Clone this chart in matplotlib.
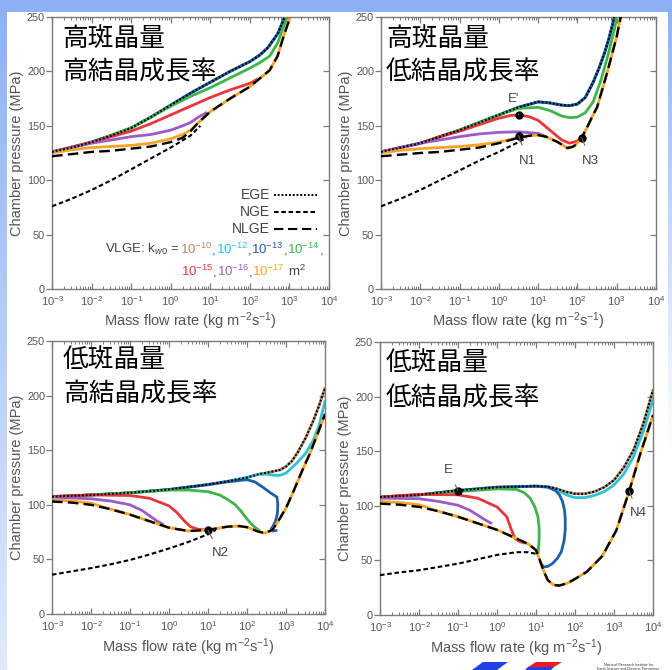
import numpy as np
import matplotlib
matplotlib.use("Agg")
import matplotlib.pyplot as plt
import matplotlib.lines as mlines
from matplotlib.patches import Polygon, Rectangle

plt.rcParams['font.family'] = ['Liberation Sans', 'DejaVu Sans']
plt.rcParams['mathtext.fontset'] = 'custom'
plt.rcParams['mathtext.rm'] = 'Liberation Sans'
plt.rcParams['mathtext.it'] = 'Liberation Sans:italic'
plt.rcParams['mathtext.bf'] = 'Liberation Sans:bold'

# panel titles (phenocryst amount / crystal growth rate)
titles = [("高斑晶量", "高結晶成長率"), ("高斑晶量", "低結晶成長率"),
          ("低斑晶量", "高結晶成長率"), ("低斑晶量", "低結晶成長率")]

# points are [log10 mass flow rate, chamber pressure MPa]
# --- top left
a_ege = [[-3,126],[-2.5,130],[-2,135],[-1.5,141],[-1,148],[-0.5,158],[0,169],[0.5,180],[1,190],[1.5,200],
         [2,209],[2.25,215],[2.46,222],[2.71,235],[2.88,250],[2.95,258]]
a_green = [[-3,126],[-2,135],[-1,148],[0,168],[0.5,177],[1,185],[1.5,194],[2,203],[2.25,208],[2.5,214],
           [2.7,226],[2.85,241],[2.97,252],[3.02,258]]
a_red = [[-3,126],[-2,135],[-1.5,140],[-1,145],[-0.5,152],[0,160],[0.5,168],[1,176],[1.5,183],[2,189],[2.2,193]]
a_purple = [[-3,126],[-2.5,130],[-2,134],[-1.5,137],[-1,140],[-0.5,142],[0,146],[0.3,150],[0.5,153],[0.7,158],[0.9,162]]
a_orange = [[-3,125],[-2.5,128],[-2,130],[-1.5,131],[-1,132],[-0.5,134],[0,138],[0.3,142],[0.5,146]]
a_nlge = [[-3,122],[-2.5,124],[-2,126],[-1.5,127],[-1,129],[-0.5,131],[0,135],[0.3,139],[0.5,145],[0.7,153],
          [1,163],[1.5,175],[2,186],[2.3,195],[2.5,201],[2.7,214],[2.85,232],[3.0,248],[3.08,258]]
a_nge = [[-3,76],[-2.5,83],[-2,91],[-1.5,100],[-1,110],[-0.5,120],[0,130],[0.5,141],[0.75,150]]

# --- top right
b_ege = [[-3,126],[-2.5,130],[-2,134],[-1.5,140],[-1,146],[-0.5,153],[0,160],[0.5,167],[1,172],[1.3,171],
         [1.6,169],[1.8,168.5],[2,170],[2.2,176],[2.4,190],[2.55,203],[2.7,218],[2.8,230],[2.9,244],[2.98,258]]
b_green = [[-3,126],[-2,134],[-1,146],[-0.5,153],[0,160],[0.5,166],[1,167],[1.3,164],[1.6,159],[1.8,157.5],
           [2,158],[2.2,162],[2.4,172],[2.6,192],[2.8,218],[2.95,240],[3.05,258]]
b_red = [[-3,126],[-2,134],[-1.5,140],[-1,145],[-0.5,151],[0,157],[0.3,159.5],[0.55,160],[0.8,158],[1,155],
         [1.2,149],[1.4,143],[1.6,137],[1.8,134],[2,136],[2.11,139]]
b_purple = [[-3,126],[-2.5,130],[-2,134],[-1.5,137],[-1,140],[-0.5,142.5],[0,144],[0.5,144.5],[1,143],[1.2,140]]
b_orange = [[-3,125],[-2.5,127.5],[-2,129],[-1.5,130],[-1,131],[-0.5,132.5],[0,135],[0.3,137.5],[0.5,139.5]]
b_nlge = [[-3,122],[-2.5,123.5],[-2,125],[-1.5,126],[-1,128],[-0.5,130],[0,134],[0.5,139],[0.8,141],[1,141.5],
          [1.2,140],[1.5,135],[1.75,129.5],[1.9,131],[2,134],[2.11,139],[2.25,149],[2.4,160],[2.5,167],
          [2.75,198],[3,232],[3.1,250],[3.15,258]]
b_nge = [[-3,76],[-2.5,83],[-2,91],[-1.5,100],[-1,109],[-0.5,118],[0,126],[0.5,135],[0.7,139]]

# --- bottom left
c_ege = [[-3,107.5],[-2,109],[-1,111],[0,114],[1,118.5],[1.5,121.5],[2,125],[2.3,128],[2.6,130],[2.85,132],
         [3.0,135],[3.15,140],[3.3,148],[3.5,161],[3.7,177],[3.85,191],[4.0,207]]
c_cyan = [[2.5,128],[2.7,127],[2.85,127],[3.0,129],[3.27,138],[3.5,147],[3.7,159],[3.85,173],[4.0,195]]
c_blue = [[1.5,121],[2.0,123],[2.2,121],[2.41,116],[2.6,111],[2.77,107],[2.79,100],[2.78,92],[2.73,85],
          [2.66,80],[2.62,78],[2.66,76],[2.75,76.5]]
c_green = [[-3,107.5],[-2,109],[-1,111],[0,113.5],[0.5,113.5],[1,112],[1.3,109],[1.5,105],[1.7,100],
           [1.85,94],[2.0,87],[2.1,83],[2.2,79.5],[2.3,77]]
c_red = [[-3,107.5],[-2,109],[-1,108.5],[-0.5,106],[0,99],[0.2,93],[0.4,85],[0.55,80],[0.75,77.5],[1.0,77]]
c_purple = [[-3,107],[-2,105.5],[-1.5,103.5],[-1,100],[-0.7,95],[-0.5,90],[-0.3,85],[-0.15,82]]
c_orange = [[-3,104.5],[-2.5,103.5],[-2,101.5]]
c_nlge = [[-3,103],[-2.5,102],[-2,100],[-1.5,96],[-1,91],[-0.5,85],[0,79],[0.5,76],[1.0,77],[1.5,80],
          [1.8,80.5],[2.0,79.5],[2.25,76],[2.45,74],[2.65,77],[2.8,85],[2.9,91],[3.0,97],[3.2,113],
          [3.4,130],[3.6,146],[3.8,164],[4.0,183]]
c_nge = [[-3,36],[-2.5,39],[-2,42],[-1.5,45.5],[-1,49.5],[-0.5,54.5],[0,60],[0.5,66],[1,73],[1.2,77]]

# --- bottom right
d_ege = [[-3,108],[-2.5,109],[-2,110],[-1.5,112],[-1,114],[-0.5,115.5],[0,117],[0.5,117.5],[1,118],[1.3,117.5],
         [1.5,116],[1.75,113],[2,111],[2.25,111],[2.5,113],[2.75,117],[3,123.5],[3.25,135],[3.5,151],
         [3.75,175],[4,206]]
d_cyan = [[1.5,115],[1.7,111.5],[1.85,109],[2.0,107.5],[2.25,107.5],[2.5,109.5],[2.75,113],[3.0,119],
          [3.25,129],[3.5,145],[3.75,168],[4.0,197]]
d_blue = [[1.3,117],[1.5,114],[1.6,110],[1.68,104],[1.73,96],[1.75,88],[1.75,78],[1.72,68],[1.65,58],
          [1.55,52],[1.42,47],[1.3,44.5],[1.2,44],[1.15,46]]
d_green = [[-3,108],[-2,110],[-1,113],[0,115.5],[0.5,115],[0.7,112],[0.85,107],[0.97,99],[1.05,90],
           [1.08,80],[1.08,68],[1.06,60],[1.05,55.5]]
d_red = [[-3,108],[-2,110.5],[-1,110],[-0.5,107],[0,99],[0.25,90],[0.37,78],[0.46,70],[0.6,67],[0.7,66]]
d_purple = [[-3,107],[-2,106.5],[-1.5,104],[-1,100.5],[-0.7,96],[-0.5,91.5],[-0.3,87],[-0.15,84]]
d_orange = [[-3,104],[-2.5,103],[-2,101]]
d_nlge = [[-3,102],[-2.5,101],[-2,99],[-1.5,95],[-1,90],[-0.5,84],[0,78],[0.5,70],[0.8,65],[1.0,59.5],
          [1.1,50],[1.2,40],[1.3,32],[1.45,27.5],[1.6,27],[1.8,29],[2.0,33],[2.3,39.5],[2.7,54],
          [3.06,77.5],[3.39,113.5],[3.66,146],[4.0,183]]
d_nge = [[-3,36.5],[-2.5,39],[-2,41],[-1.5,44],[-1,47],[-0.5,51],[0,55],[0.5,57.5],[0.8,57.5],[1.0,56],[1.05,55]]

# labelled points: name, point, label position
a_marks = []
b_marks = [["E'", [0.5,160], [0.38,175]], ["N1", [0.5,141], [0.74,118]], ["N3", [2.11,139], [2.34,118]]]
c_marks = [["N2", [1.0,76.5], [1.31,55.5]]]
d_marks = [["E", [-1.0,114], [-1.26,133]], ["N4", [3.39,113.5], [3.62,93]]]

col = {'brown': '#b08a68', 'cyan': '#2cc3d6', 'blue': '#1d5fad', 'green': '#3db54a',
       'red': '#e8363c', 'purple': '#9b5bc8', 'orange': '#f5a524'}
gray = '#555555'


def xy(pts):
    a = np.array(pts, float)
    return 10 ** a[:, 0], a[:, 1]


def before(pts, d):
    return [p for p in pts if p[0] < d]


def after(pts, d):
    return [p for p in pts if p[0] > d]


def draw_panel(ax, ege, cyan, blue, green, red, purple, orange, nlge, nge, marks):
    lw = 2.0
    for pts, c in [(ege, 'brown'), (cyan, 'cyan'), (blue, 'blue'), (green, 'green'),
                   (red, 'red'), (purple, 'purple'), (orange, 'orange')]:
        ax.plot(*xy(pts), color=col[c], lw=lw, solid_capstyle='round', zorder=2)
    ax.plot(*xy(nge), color='black', lw=1.5, ls=(0, (2.2, 1.3)), zorder=3)
    ax.plot(*xy(nlge), color='black', lw=1.7, ls=(0, (4.5, 2.2)), zorder=4)
    ax.plot(*xy(ege), color='black', lw=1.5, ls=(0, (0.9, 0.9)), zorder=4)
    for name, p, lp in marks:
        ax.plot(10 ** p[0], p[1], 'o', color='black', ms=5, zorder=6)
        ax.annotate(name, xy=(10 ** p[0], p[1]), xytext=(10 ** lp[0], lp[1]), ha='center', va='center',
                    fontsize=9.5, color='#444444', zorder=6,
                    arrowprops=dict(arrowstyle='-', color='#666666', lw=0.8, shrinkA=5, shrinkB=0))

    ax.set_xscale('log')
    ax.set_xlim(1e-3, 1e4)
    ax.set_ylim(0, 250)
    ax.set_xticks([1e-3, 1e-2, 1e-1, 1e0, 1e1, 1e2, 1e3, 1e4])
    ax.set_yticks([0, 50, 100, 150, 200, 250])
    for s in ax.spines.values():
        s.set_color('#7a7a7a')
        s.set_linewidth(1.0)
    ax.tick_params(which='both', direction='in', top=True, right=True, colors='#7a7a7a',
                   labelcolor=gray)
    ax.tick_params(axis='x', labelsize=8, pad=4)
    ax.tick_params(axis='y', labelsize=7.8, pad=5)
    ax.tick_params(which='major', length=4, width=0.9)
    ax.tick_params(which='minor', length=2.2, width=0.7)
    for t in ax.yaxis.get_major_ticks():
        t.tick1line.set_marker(mlines.TICKLEFT)
    ax.set_xlabel('Mass flow rate (kg m$^{-2}$s$^{-1}$)', fontsize=10.5, color=gray)
    ax.set_ylabel('Chamber pressure (MPa)', fontsize=10.5, color=gray)
    ax.xaxis.label.set_va('center')
    ax.yaxis.label.set_va('center')
    ax.xaxis.set_label_coords(0.5, -0.12)
    ax.yaxis.set_label_coords(-0.128, 0.5)


fig = plt.figure(figsize=(6.72, 6.70), dpi=100)

# slide background strips and logo
bg = fig.add_axes([0, 0, 1, 1], zorder=-5)
bg.axis('off')
grad = np.linspace(0, 1, 256)[:, None]
bg.imshow(np.dstack([0.55 + 0.33 * grad, 0.69 + 0.23 * grad, 0.97 + 0.02 * grad]),
          extent=[0, 7, 670, 0], aspect='auto')
bg.imshow(np.dstack([0.55 + 0.45 * grad, 0.69 + 0.31 * grad, 0.97 + 0.03 * grad]),
          extent=[668, 672, 450, 0], aspect='auto')
bg.add_patch(Rectangle((0, 0), 672, 12, color='#8db1f7', lw=0))
bg.add_patch(Polygon([[472, 670], [483, 662], [508, 662], [497, 670]], color='#2040e8', lw=0))
bg.add_patch(Polygon([[528, 667], [536, 662], [562, 662], [554, 667]], color='#ee1c1c', lw=0))
bg.add_patch(Polygon([[525, 670], [528, 667], [554, 667], [551, 670]], color='#2040e8', lw=0))
bg.text(628, 664.5, 'National Research Institute for', fontsize=2.6, ha='center', va='center', color='#333333')
bg.text(628, 668.5, 'Earth Science and Disaster Prevention', fontsize=2.6, ha='center', va='center', color='#333333')
bg.set_xlim(0, 672)
bg.set_ylim(670, 0)

rects = [(52, 17, 329, 289), (381, 17, 656, 289), (52, 341, 325, 614), (380, 342, 653, 615)]
axes = []
for l, t, r, b in rects:
    axes.append(fig.add_axes([l / 672, 1 - b / 670, (r - l) / 672, (b - t) / 670]))

draw_panel(axes[0], a_ege, a_ege, a_ege, a_green, a_red, a_purple,
           a_orange + after(a_nlge, a_orange[-1][0]), a_nlge, a_nge, a_marks)
draw_panel(axes[1], b_ege, b_ege, b_ege, b_green, b_red, b_purple,
           b_orange + after(b_nlge, b_orange[-1][0]), b_nlge, b_nge, b_marks)
draw_panel(axes[2], c_ege, before(c_ege, 2.4) + c_cyan, before(c_ege, 1.4) + c_blue,
           c_green, c_red, c_purple, c_orange + after(c_nlge, c_orange[-1][0]), c_nlge, c_nge, c_marks)
draw_panel(axes[3], d_ege, before(d_ege, 1.4) + d_cyan, before(d_ege, 1.25) + d_blue,
           d_green, d_red, d_purple, d_orange + after(d_nlge, d_orange[-1][0]), d_nlge, d_nge, d_marks)

# legend of the first panel
ax = axes[0]
for yy, name, ls in [(0.346, 'EGE', (0, (0.9, 0.9))), (0.284, 'NGE', (0, (2.2, 1.3))),
                     (0.22, 'NLGE', (0, (4.5, 2.2)))]:
    ax.text(0.787, yy, name, transform=ax.transAxes, ha='right', va='center', fontsize=10, color='#444444')
    ax.add_line(mlines.Line2D([0.80, 0.955], [yy, yy], transform=ax.transAxes, color='black',
                              lw=1.5, ls=ls))

vl_1 = [('VLGE: k$_{w0}$ = ', '#444444'), ('10$^{-10}$', col['brown']), (',', '#444444'),
        ('10$^{-12}$', col['cyan']), (',', '#444444'), ('10$^{-13}$', col['blue']), (',', '#444444'),
        ('10$^{-14}$', col['green']), (',', '#444444')]
vl_2 = [('10$^{-15}$', col['red']), (',', '#444444'), ('10$^{-16}$', col['purple']), (',', '#444444'),
        ('10$^{-17}$', col['orange']), (' m$^{2}$', '#444444')]
for (x0, y0), pieces in [((0.19, 0.144), vl_1), ((0.465, 0.064), vl_2)]:
    prev = ax.text(x0, y0, pieces[0][0], transform=ax.transAxes, va='center', ha='left',
                   fontsize=9.5, color=pieces[0][1])
    for s, c in pieces[1:]:
        prev = ax.annotate(s, xycoords=prev, xy=(1, 0), va='bottom', ha='left', fontsize=9.5, color=c)

# Japanese panel titles
title_pos = [(62, 39, 72), (386, 39, 72), (63, 360, 395), (386, 363, 398)]
for (t1, t2), (x, y1, y2) in zip(titles, title_pos):
    for t, y in [(t1, y1), (t2, y2)]:
        fig.text(x / 672, 1 - y / 670, t, ha='left', va='center', fontsize=18.5,
                 family=['Noto Sans CJK JP', 'DejaVu Sans'], color='black', zorder=10)

fig.savefig('out.png', dpi=100)
